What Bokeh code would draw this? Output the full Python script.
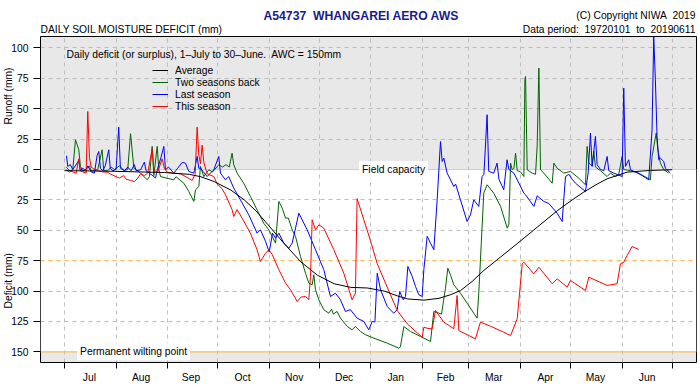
import numpy as np
from bokeh.plotting import figure
from bokeh.models import FixedTicker, Span, BoxAnnotation, Label, Legend, LegendItem, Title
from bokeh.embed import file_html
from bokeh.resources import INLINE

FONT = "Liberation Sans"
FS = "10.3px"
H = 11.5        # approx. text box height for FS
HB = 13.6       # approx. text box height for bold title

# ---- axes data ----
month_names = ["Jul", "Aug", "Sep", "Oct", "Nov", "Dec", "Jan", "Feb", "Mar", "Apr", "May", "Jun"]
month_starts = [0, 31, 62, 92, 123, 153, 184, 215, 243, 274, 304, 335, 365]
month_mids = [15, 46, 76, 107, 138, 168, 199, 229, 258, 289, 319, 350]
y_ticks = [-150, -125, -100, -75, -50, -25, 0, 25, 50, 75, 100]
y_tick_labels = ["150", "125", "100", "75", "50", "25", "0", "25", "50", "75", "100"]
field_capacity = 0
half_awc = -75
wilting_point = -150

# ---- series (day since 1 July, surplus(+)/deficit(-) mm) ----
avg_day = [0, 15, 30, 45, 60, 75, 82, 90, 100, 108, 115, 122, 132, 142, 152, 162, 172, 182,
           192, 200, 206, 216, 225, 232, 238, 245, 252, 262, 272, 284, 296, 304, 312, 320,
           326, 338, 352, 365]
avg_val = [-1, -1.2, -1.5, -2, -2.5, -4, -6, -10, -17, -25, -34, -45, -61, -76, -87, -94,
           -97, -97.5, -100, -104, -106.5, -107.5, -106, -103, -99.6, -92, -83, -72, -61,
           -47.5, -34, -26, -18.6, -12, -7.7, -2.2, -0.8, -0.2]

two_back_day = [1.2, 3, 5, 6.6, 8.6, 9.6, 11, 13, 15, 16, 18, 20, 22.6, 23.6, 26, 28, 30, 33,
                36, 38, 39.7, 41.7, 43, 45.7, 49.7, 51, 52.7, 53.7, 55.7, 56.7, 57.7, 61,
                65.7, 67, 71.7, 74.7, 77.7, 78.7, 80.7, 81.7, 83.7, 86.7, 89, 92.7, 95, 97,
                99, 100.7, 101.7, 103.7, 107.7, 111.7, 115.7, 119.7, 122.7, 124.8, 126.8,
                128.8, 130.8, 132.8, 134.5, 136.8, 138.8, 141.8, 144.8, 146.8, 148.8, 149.8,
                150.8, 152.8, 155.8, 158.8, 160.5, 161.5, 163.8, 165.8, 169.9, 172.8, 174.8,
                177.8, 180.9, 185.9, 193.9, 200.9, 201.8, 203.9, 207.9, 213.9, 219.9, 221.9,
                224.9, 226.5, 228.9, 230.3, 231.9, 233.9, 237.9, 241.9, 245.9, 247.9, 248.9,
                250.4, 251.9, 253.9, 257.9, 262, 266, 267, 268, 269, 270, 271, 272, 274, 276,
                276.6, 277, 278, 281, 283, 284, 285, 286, 288, 293, 294, 296, 300, 304, 309,
                313, 314, 315, 317, 318, 319, 322, 326, 328, 331, 333, 335, 336, 340, 345,
                352, 353, 355.5, 356.5, 358, 360, 363]
two_back_val = [-0.3, -2, 0, 24.4, 16.2, 2.5, -1, 0, 3, -1, -1, 0, 16.2, -1, -1, 2, 0, 3,
                -1, 0, 29.4, 1, 0, -3, -8.5, -6, 19, -5, 19, 0, -5.8, -7,
                -8.5, -6, -11.3, -18.1, -26.3, -16.7, -14, 2.5, -5.8, -0.3, -2, 3.9, 2, 4,
                2, 13.4, 3.9, -3, -11.3, -22.2, -33.2, -44.2, -49.6, -55, -60.6,
                -26.3, -31.8, -40, -40, -49.6, -55, -71.6, -85.3, -93.5, -94.9, -86.7,
                -99, -107.2, -115.4, -118.2, -115, -119, -116.8, -122.3, -129.2, -131.9, -129.2,
                -133.3, -136, -138.8, -142.9, -147, -146, -129.2, -133.3, -137.4, -141.5, -116.8,
                -118.2, -119, -97.7, -81.2, -86.7, -94.9, -101.8, -110, -118.2, -122.3, -101.8,
                -60.6, -19.5, -12.6, -19.5, -30.4, -48.3, -45, 5.2, -0.3, 1, 13.4, -1, -2, -5.8,
                73.8, 76.5, -0.3, -3, -4, 20, 83.4, -0.3, -3, -11.3, 5.2, 1, -3, -1.6, -7.2,
                -12.6, 19, 5.2, 3, 15, 2, -1, -5.8, -3, -5.8, -4, 10.7, 0, -1, -3,
                -8.5, 10.7, 30, 16.2, 5.2, 0, -3]

last_day = [1.2, 2, 3.5, 5, 6.5, 8.6, 9.5, 11, 12.5, 14, 16, 18, 19.6, 20.6, 21.6, 23, 24.5,
            26.6, 27.5, 29, 31, 32.6, 33.6, 36, 38, 40, 42, 43, 45.7, 48, 49, 51, 54.7, 56,
            58, 59.7, 60.7, 62.5, 65.7, 68, 70.7, 72.7, 74.7, 77.7, 79.7, 80.7, 81.7, 85.7,
            89.7, 92.7, 93.7, 96.7, 98.7, 101.7, 105.7, 110.7, 115.7, 117.7, 120.8, 123, 125,
            126.8, 128.8, 131.8, 134.8, 136.8, 140.8, 145.8, 150.8, 155.8, 159.8, 162.8,
            165.8, 168.8, 171.8, 175.8, 179.8, 182.8, 184.9, 186.5, 187.9, 189.9, 193.9,
            197.8, 199.9, 201.4, 203.5, 204.9, 206.3, 208.9, 210.9, 212.9, 214.9, 215.9,
            217.9, 219.9, 221.9, 223.9, 225.9, 226.9, 227.9, 229.9, 233.9, 235, 237.9, 241.9,
            243.9, 245.9, 247, 248.9, 250.9, 252, 253.9, 254.9, 257.9, 259.9, 261, 263.9,
            265.9, 267, 270, 276, 277, 282, 284, 288, 291, 296, 299, 301, 303, 305, 307, 313,
            314.6, 316, 317, 319, 320, 322, 324, 326, 327, 330, 335, 336, 337, 339, 340, 343,
            347, 351, 353, 354, 355, 356, 357, 358, 360, 361, 362, 364]
last_val = [11.3, 2.5, 4, 0, 3, 7.4, -1, 1, -1, 3, -2, -3, 11.5, 14.8, 1, -1, 3,
            16.2, 1, -1, 0, 34.8, 1, -1, 2, -1, 4, -1, -0.3, 6, -1, -3, -7, 1,
            10, 19, -0.3, 2, -3, 1, 5.8, 5.2, -1.6, -3, 10.7, 1, 1, -5.8,
            -0.3, 10.7, -3, -8.5, -5.8, -15.4, -25, -37.3, -52.4, -49.6, -59.2, -68, -52.4,
            -56.5, -52.4, -60.6, -64.8, -60.6, -36, -49.6, -66, -82.5, -104.5, -101.8,
            -107.2, -116.8, -115.4, -122.3, -125, -131.9, -125, -125.5, -85.3, -99, -112.7,
            -118.2, -115.4, -100.4, -107.2, -104.5, -79.8, -88, -96.3, -103.1, -104.5, -82.5,
            -55, -60.6, -66, -25, 23, 6.6, 9.3, -3, -14, -12, -25, -42.8,
            -37.3, -25, -27, -30.4, -5.8, -4, 45, -1.6, -3, 5.2, -8, -16.7,
            8, 0, -3, -19.5, -20.8, -30.4, -21.7, -26.3, -28, -36, -42.8, -5.8, -4, -8, -11.3, -18.1,
            -3, 29.9, 2.5, 27.2, 3.9, 0, -1, 10.7, -1, -3, -5.8, 66.9, 2.5, 8, -0.3, -2,
            -5, -8.5, 32.7, 109, 73.8, 27, 8, 9.3, 6.6, 1, -0.3, -3]

this_day = [1, 3, 5, 7, 8.6, 9.5, 11, 13, 14, 15, 16, 17.6, 20, 23, 25.6, 28, 31.7, 33, 35.6,
            37, 39.7, 42, 43.7, 45.7, 48, 50, 52.7, 53.7, 56, 58.7, 60, 61.7, 65, 69.7, 73,
            76.7, 78.5, 79.7, 80.7, 81.7, 82.7, 83.7, 85.7, 89.7, 91.7, 94.7, 96.7, 100.7,
            101.7, 103.7, 106.7, 111.7, 115.7, 117.7, 120.8, 122.8, 124.8, 128.8, 132.8,
            135.8, 139.8, 142, 144.8, 146.8, 147.8, 148.8, 150.8, 152.8, 155.8, 161.8, 167.8,
            172.8, 174.8, 175.8, 183.8, 187.9, 193.9, 199.9, 205.9, 214.9, 215.9, 219, 220.9,
            222.9, 227.9, 233.9, 235.9, 236.9, 242.9, 246.9, 249.9, 256, 263.9, 268, 272, 275,
            276, 282, 285, 293, 296, 302, 304, 313, 315, 326, 332, 334, 336, 338, 341, 345]
this_val = [2, -1, -2, -3, 8.8, -1, -2, -3, 47.7, 10, 2, 0.5, -1, -2, -2.2, -4, -6.3, -7, -5,
            -8, -9, -10, -7.7, -3.6, -5, -3, 17, -0.8, -2, 8.8, 1, -2.2, -3, -3.6, -6,
            -9, -4, 34.8, 12, 4.7, 20, 6, -3.6, -5.8, -11.8, -15.9, -20.8, -33,
            -38.7, -33, -40, -52.4, -66, -75.7, -68.9, -66, -70, -82.5, -93.5,
            -99, -108.6, -105, -104.5, -107.2, -88, -41.4, -49.6, -45.5, -48.3, -66, -85.3,
            -107.2, -101.8, -24, -58.4, -77.6, -96.8, -116, -127, -138, -129.8, -131, -131,
            -116, -125.6, -131, -103.7, -132.5, -136.6, -139.3, -125.6, -129, -133.9, -136.6, -122.8, -77.6,
            -76.3, -85.8, -80.4, -94, -90, -96.8, -91.3, -99.6, -88.6, -95.4, -94, -77.6, -76.3, -70.8, -63.4, -65.8]

series_names = ["Average", "Two seasons back", "Last season", "This season"]
series_colors = ["black", "#006400", "#0000FF", "#FF0000"]

# ---- figure ----
p = figure(width=698, height=388, x_range=(-14.4, 379.7), y_range=(-158.8, 109.4),
           output_backend="svg", toolbar_location=None, title_location=None,
           min_border_left=40, min_border_right=2, min_border_top=36, min_border_bottom=26)
p.background_fill_color = "#E8E8E8"
p.border_fill_color = "white"
p.outline_line_color = "black"
p.outline_line_width = 1

band = BoxAnnotation(bottom=wilting_point, top=field_capacity, fill_color="white",
                     fill_alpha=1, line_color=None, level="image")
p.add_layout(band)

p.xgrid.ticker = FixedTicker(ticks=month_starts)
p.ygrid.ticker = FixedTicker(ticks=[t for t in y_ticks if t not in (0, -75, -150)])
for g in (p.xgrid, p.ygrid):
    g.grid_line_color = "#BDBDBD"
    g.grid_line_dash = "4 4"
    g.grid_line_width = 1

xa = p.xaxis[0]
xa.ticker = FixedTicker(ticks=month_mids, minor_ticks=month_starts)
xa.major_label_overrides = {m: n for m, n in zip(month_mids, month_names)}
xa.major_tick_out = 0
xa.major_tick_in = 0
xa.minor_tick_out = 6
xa.minor_tick_in = 0
xa.minor_tick_line_color = "black"
xa.axis_line_color = None
xa.major_label_standoff = 3
xa.major_label_text_font = FONT
xa.major_label_text_font_size = FS
xa.major_label_text_color = "black"

ya = p.yaxis[0]
ya.ticker = FixedTicker(ticks=y_ticks)
ya.major_label_overrides = {t: l for t, l in zip(y_ticks, y_tick_labels)}
ya.major_tick_out = 7
ya.major_tick_in = 0
ya.minor_tick_out = 0
ya.minor_tick_in = 0
ya.axis_line_color = None
ya.major_tick_line_color = "black"
ya.major_label_standoff = 5
ya.major_label_text_font = FONT
ya.major_label_text_font_size = FS
ya.major_label_text_color = "black"

p.add_layout(Span(location=field_capacity, dimension="width", line_color="#7FF5C8",
                  line_width=1.2, level="underlay"))
p.add_layout(Span(location=half_awc, dimension="width", line_color="#FDBB4F",
                  line_width=1.2, line_dash="4 4", level="underlay"))
p.add_layout(Span(location=wilting_point, dimension="width", line_color="#FDBB4F",
                  line_width=1.2, level="underlay"))

r_green = p.line(two_back_day, two_back_val, line_color=series_colors[1], line_width=1)
r_blue = p.line(last_day, last_val, line_color=series_colors[2], line_width=1)
r_red = p.line(this_day, this_val, line_color=series_colors[3], line_width=1)
r_avg = p.line(avg_day, avg_val, line_color=series_colors[0], line_width=1)

legend = Legend(items=[LegendItem(label=series_names[0], renderers=[r_avg]),
                       LegendItem(label=series_names[1], renderers=[r_green]),
                       LegendItem(label=series_names[2], renderers=[r_blue]),
                       LegendItem(label=series_names[3], renderers=[r_red])],
                location=(112, 250), border_line_color=None, background_fill_alpha=0,
                padding=0, margin=0, spacing=0, label_standoff=7,
                glyph_width=16, glyph_height=12, label_height=12,
                label_text_font=FONT, label_text_font_size=FS, label_text_color="black")
p.add_layout(legend)

# texts inside the frame
def lab(x, y, text, align="left", bg=None, pad=0):
    kw = dict(x=x, y=y, text=text, text_align=align, text_baseline="middle",
              text_font=FONT, text_font_size=FS, text_color="black")
    if bg is not None:
        kw.update(background_fill_color=bg, padding=pad)
    p.add_layout(Label(**kw))

lab(1.2, 94.6, "Daily deficit (or surplus), 1\u2013July to 30\u2013June.\u00a0 AWC = 150mm")
lab(197.7, field_capacity, "Field capacity", align="center", bg="white", pad=3)
lab(41.5, wilting_point, "Permanent wilting point", align="center", bg="white", pad=3)

# texts outside the frame: titles stacked in the side panels
def ttl(text, side, align="left", offset=0, standoff=-(2 + H), size=FS, style="normal",
        color="black"):
    t = Title(text=text, align=align, vertical_align="middle", offset=offset,
              standoff=standoff, text_font=FONT, text_font_size=size,
              text_font_style=style, text_color=color)
    p.add_layout(t, side)

# above: listed from the frame outwards
ttl(" ", "above", standoff=7 - 2 - H)                       # spacer (7 px)
ttl("DAILY SOIL MOISTURE DEFICIT (mm)", "above", align="left", offset=0)
ttl("Data period:\u00a0 19720101\u00a0 to\u00a0 20190611", "above", align="right", offset=1)
ttl(" ", "above", standoff=14 - 2 - H)                      # spacer (14 px)
ttl("A54737\u00a0 WHANGAREI AERO AWS", "above", align="left", offset=223,
    standoff=-(2 + HB), size="12.2px", style="bold", color="#1A1A8C")
ttl("(C) Copyright NIWA\u00a0 2019", "above", align="right", offset=1)

# left: rotated axis titles
ttl("Deficit (mm)", "left", align="left", offset=54)
ttl("Runoff (mm)", "left", align="left", offset=238)

open("out.html", "w").write(file_html(p, INLINE))
